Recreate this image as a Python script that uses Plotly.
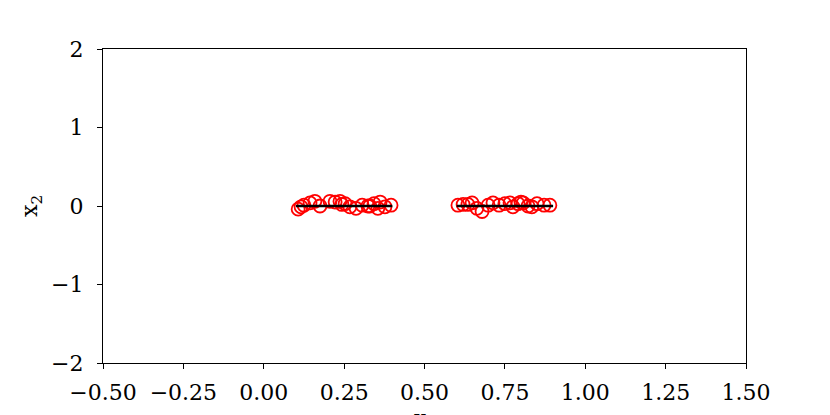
import plotly.graph_objects as go

# sample points (red open circles)
x_left = [0.107, 0.116, 0.125, 0.144, 0.159, 0.175, 0.206, 0.222, 0.237, 0.243,
          0.253, 0.268, 0.287, 0.306, 0.324, 0.330, 0.343, 0.355, 0.362, 0.377, 0.396]
y_left = [-0.04, -0.01, 0.01, 0.04, 0.06, 0.0, 0.06, 0.05, 0.06, 0.02,
          0.03, -0.01, -0.03, 0.01, 0.0, 0.0, 0.03, -0.03, 0.05, -0.01, 0.01]

x_right = [0.604, 0.620, 0.635, 0.648, 0.663, 0.679, 0.698, 0.713, 0.732, 0.750,
           0.766, 0.775, 0.791, 0.800, 0.807, 0.822, 0.834, 0.850, 0.872, 0.890]
y_right = [0.01, 0.02, 0.02, 0.04, -0.03, -0.07, 0.01, 0.04, 0.01, 0.03,
           0.04, -0.01, 0.03, 0.05, 0.04, 0.0, -0.01, 0.03, 0.01, 0.01]

# fitted segments (black lines)
seg1_x = [0.1, 0.4]
seg1_y = [0.0, 0.0]
seg2_x = [0.6, 0.9]
seg2_y = [0.0, 0.0]

fig = go.Figure()

fig.add_trace(go.Scatter(
    x = x_left + x_right,
    y = y_left + y_right,
    mode = 'markers',
    marker = dict(symbol='circle-open', size=13, color='red', line=dict(width=1.8, color='red')),
    showlegend = False
))

for sx, sy in [(seg1_x, seg1_y), (seg2_x, seg2_y)]:
    fig.add_trace(go.Scatter(
        x = sx,
        y = sy,
        mode = 'lines',
        line = dict(color='black', width=2.5),
        showlegend = False
    ))

axis_style = dict(
    showline=True, linecolor='black', linewidth=1.3, mirror=True,
    ticks='outside', ticklen=5, tickwidth=1.3, tickcolor='black',
    showgrid=False, zeroline=False, automargin=False,
)

fig.update_layout(
    width=830, height=415,
    margin=dict(l=95, r=92, t=41, b=60),
    plot_bgcolor='white', paper_bgcolor='white',
    font=dict(family="DejaVu Serif", size=22, color='black'),
    xaxis=dict(range=[-0.5, 1.5], tickvals=[-0.5, -0.25, 0, 0.25, 0.5, 0.75, 1.0, 1.25, 1.5],
               ticktext=['−0.50', '−0.25', '0.00', '0.25', '0.50', '0.75', '1.00', '1.25', '1.50'],
               ticklabelstandoff=4, **axis_style),
    yaxis=dict(range=[-2, 2], tickvals=[-2, -1, 0, 1, 2],
               ticktext=['−2', '−1', '0', '1', '2'],
               ticklabelstandoff=9, **axis_style),
)

# axis titles as annotations (the x one runs off the bottom edge, as in the original)
fig.add_annotation(text='x<sub>1</sub>', xref='paper', yref='paper', x=0.5, y=-0.13,
                   xanchor='center', yanchor='top', showarrow=False, font=dict(size=22))
fig.add_annotation(text='x<sub>2</sub>', xref='paper', yref='paper', x=-0.112, y=0.5,
                   xanchor='center', yanchor='middle', textangle=-90, showarrow=False,
                   font=dict(size=22))

fig.write_html("out.html")
